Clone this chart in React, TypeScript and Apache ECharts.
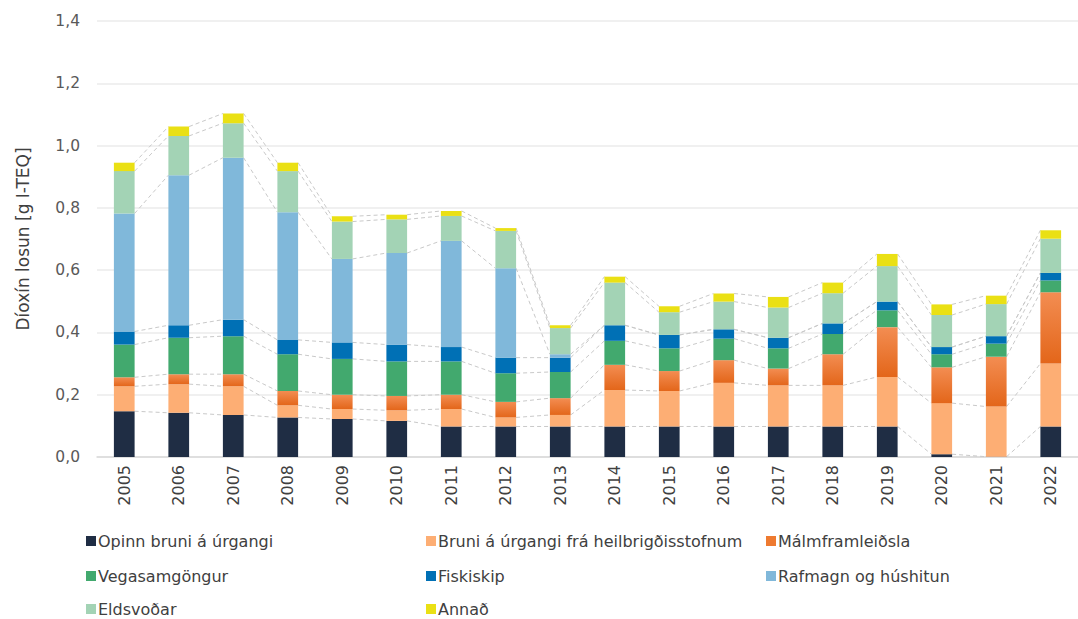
import React, { useEffect, useRef } from "react";
import * as echarts from "echarts";

const years = ["2005","2006","2007","2008","2009","2010","2011","2012","2013","2014","2015","2016","2017","2018","2019","2020","2021","2022"];
const seriesNames = ["Opinn bruni á úrgangi","Bruni á úrgangi frá heilbrigðisstofnum","Málmframleiðsla","Vegasamgöngur","Fiskiskip","Rafmagn og húshitun","Eldsvoðar","Annað"];
const opinn = [0.147,0.142,0.135,0.127,0.122,0.116,0.098,0.098,0.098,0.098,0.098,0.098,0.098,0.098,0.098,0.009,0.001,0.098];
const bruni = [0.080,0.092,0.092,0.039,0.032,0.034,0.056,0.029,0.037,0.117,0.114,0.140,0.132,0.132,0.159,0.164,0.161,0.202];
const malm = [0.029,0.032,0.039,0.046,0.046,0.046,0.046,0.050,0.054,0.081,0.064,0.073,0.054,0.100,0.160,0.115,0.160,0.229];
const vega = [0.105,0.117,0.122,0.118,0.115,0.111,0.107,0.092,0.084,0.077,0.073,0.069,0.065,0.065,0.054,0.042,0.042,0.038];
const fisk = [0.042,0.040,0.053,0.046,0.053,0.054,0.046,0.050,0.046,0.050,0.043,0.030,0.034,0.034,0.028,0.023,0.024,0.024];
const raf = [0.379,0.482,0.520,0.410,0.268,0.294,0.341,0.287,0.011,0,0,0,0,0,0,0,0,0];
const elds = [0.136,0.126,0.111,0.132,0.120,0.108,0.080,0.120,0.084,0.137,0.073,0.089,0.097,0.097,0.114,0.103,0.103,0.110];
const annad = [0.027,0.030,0.031,0.027,0.017,0.015,0.016,0.009,0.009,0.019,0.019,0.026,0.034,0.034,0.039,0.034,0.027,0.027];
const yTicks = { min: 0, max: 1.4, interval: 0.2 };

const FONT = "DejaVu Sans";

export default function App() {
  const ref = useRef<HTMLDivElement>(null);
  useEffect(() => {
    if (!ref.current) return;
    const chart = echarts.init(ref.current, undefined, { renderer: "svg" });
    const data = [opinn, bruni, malm, vega, fisk, raf, elds, annad];
    const colors: any[] = [
      "#1F2D44",
      "#FDAE74",
      new echarts.graphic.LinearGradient(0, 0, 0, 1, [
        { offset: 0, color: "#F38D52" },
        { offset: 1, color: "#E3661A" },
      ]),
      "#42A96E",
      "#0070B5",
      "#80B8DA",
      "#A3D3B5",
      "#EAE014",
    ];
    const legendColors = ["#1F2D44","#FDAE74","#EE7A30","#42A96E","#0070B5","#80B8DA","#A3D3B5","#EAE014"];
    const barFrac = 0.38;

    const bars = seriesNames.map((name, k) => ({
      name,
      type: "bar",
      stack: "total",
      barWidth: "38%",
      data: data[k],
      itemStyle: { color: colors[k] },
      z: 2,
    }));

    const cumAt = (i: number) => {
      const out: number[] = [];
      let s = 0;
      for (let k = 0; k < data.length; k++) {
        s += data[k][i];
        out.push(s);
      }
      return out;
    };

    const linesSeries = {
      name: "serieslines",
      type: "custom",
      z: 1,
      silent: true,
      clip: false,
      data: years.slice(0, -1).map((_, i) => [i, 0]),
      renderItem: (params: any, api: any) => {
        const i = params.dataIndex;
        const bw = api.size([1, 0])[0] * barFrac;
        const a = cumAt(i);
        const b = cumAt(i + 1);
        const children = a.map((v, k) => {
          const p1 = api.coord([i, v]);
          const p2 = api.coord([i + 1, b[k]]);
          return {
            type: "line",
            shape: { x1: p1[0] + bw / 2, y1: p1[1], x2: p2[0] - bw / 2, y2: p2[1] },
            style: { stroke: "#C9C9C9", lineWidth: 1, lineDash: [4, 3] },
          };
        });
        return { type: "group", children };
      },
    };

    const colX = [86, 426, 766];
    const rowY = [533, 568, 601];
    const legends = seriesNames.map((name, k) => ({
      show: true,
      left: colX[k % 3],
      top: rowY[Math.floor(k / 3)],
      padding: 0,
      itemWidth: 10,
      itemHeight: 10,
      icon: "rect",
      selectedMode: false,
      data: [{ name, itemStyle: { color: legendColors[k] } }],
      textStyle: { fontFamily: FONT, fontSize: 16, color: "#404040", padding: [0, 0, 0, -3] },
    }));

    chart.setOption({
      animation: false,
      textStyle: { fontFamily: FONT },
      grid: { left: 97, top: 21, width: 995, height: 436, containLabel: false },
      legend: legends,
      xAxis: {
        type: "category",
        data: years,
        axisLine: { show: true, lineStyle: { color: "#D9D9D9", width: 1.5 } },
        axisTick: { show: false },
        axisLabel: { rotate: 90, margin: 8, fontFamily: FONT, fontSize: 16, color: "#404040" },
      },
      yAxis: {
        type: "value",
        min: yTicks.min,
        max: yTicks.max,
        interval: yTicks.interval,
        name: "Díoxín losun [g I-TEQ]",
        nameLocation: "middle",
        nameRotate: 90,
        nameGap: 66,
        nameTextStyle: { fontFamily: FONT, fontSize: 17, color: "#404040" },
        axisLine: { show: false },
        axisTick: { show: false },
        splitLine: { lineStyle: { color: "#EBEBEB", width: 1.5 } },
        axisLabel: {
          margin: 17,
          fontFamily: FONT,
          fontSize: 15.5,
          color: "#595959",
          formatter: (v: number) => v.toFixed(1).replace(".", ","),
        },
      },
      series: [...bars, linesSeries],
    });
    return () => chart.dispose();
  }, []);
  return (
    <div
      ref={ref}
      style={{ position: "fixed", left: 0, top: 0, width: 1078, height: 619, background: "#fff" }}
    />
  );
}
